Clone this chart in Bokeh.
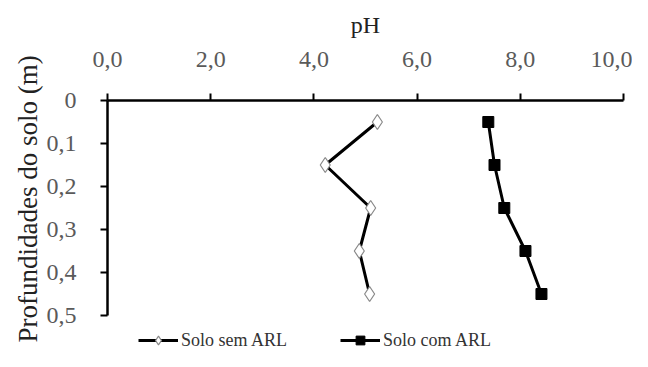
from bokeh.plotting import figure
from bokeh.models import Range1d, Legend, LegendItem, Title, FixedTicker
from bokeh.embed import file_html
from bokeh.resources import INLINE

depth = [0.05, 0.15, 0.25, 0.35, 0.45]
ph_sem_arl = [5.23, 4.22, 5.10, 4.88, 5.08]
ph_com_arl = [7.38, 7.50, 7.69, 8.10, 8.41]
x_ticks = [0, 2, 4, 6, 8, 10]
x_tick_labels = ["0,0", "2,0", "4,0", "6,0", "8,0", "10,0"]
y_ticks = [0, 0.1, 0.2, 0.3, 0.4, 0.5]
y_tick_labels = ["0", "0,1", "0,2", "0,3", "0,4", "0,5"]

FONT = "Liberation Serif"
W, H = 632, 351
TOP, LEFT, RIGHT = 100, 107, 9
AXIS_BOTTOM_PX = 315  # where depth 0.5 sits on the canvas
# frame runs to the bottom of the canvas so the legend can sit below the axis
y_bottom = 0.5 * (H - TOP) / (AXIS_BOTTOM_PX - TOP)

p = figure(width=W, height=H, output_backend="svg", toolbar_location=None,
           x_range=Range1d(0, 10), y_range=Range1d(y_bottom, 0),
           x_axis_location="above",
           min_border_left=LEFT, min_border_right=RIGHT, min_border_top=TOP, min_border_bottom=0)
p.outline_line_color = None
p.grid.visible = False
p.background_fill_color = "white"
p.border_fill_color = "white"

for ax in (p.xaxis[0], p.yaxis[0]):
    ax.axis_line_color = "black"
    ax.axis_line_width = 2.5
    ax.major_tick_line_color = "black"
    ax.major_tick_line_width = 2
    ax.major_tick_out = 7
    ax.major_tick_in = 0
    ax.minor_tick_line_color = None
    ax.major_label_text_font = FONT
    ax.major_label_text_font_size = "24px"
    ax.major_label_text_color = "#5a5a5a"

xa = p.xaxis[0]
xa.ticker = FixedTicker(ticks=x_ticks)
xa.major_label_overrides = {t: l for t, l in zip(x_ticks, x_tick_labels)}
xa.major_label_standoff = 27
xa.axis_label = "pH"
xa.axis_label_text_font = FONT
xa.axis_label_text_font_size = "24px"
xa.axis_label_text_font_style = "normal"
xa.axis_label_text_color = "#222222"
xa.axis_label_standoff = 11

ya = p.yaxis[0]
ya.ticker = FixedTicker(ticks=y_ticks)
ya.major_label_overrides = {t: l for t, l in zip(y_ticks, y_tick_labels)}
ya.major_label_standoff = 24
ya.bounds = (0, 0.5)

ytitle = Title(text="Profundidades do solo (m)", text_font=FONT, text_font_size="27px",
               text_font_style="normal", text_color="#222222",
               align="left", offset=9, vertical_align="middle", standoff=0)
p.add_layout(ytitle, "left")

r1l = p.line(ph_sem_arl, depth, line_color="black", line_width=3)
r1m = p.scatter(ph_sem_arl, depth, marker="diamond", size=15, fill_color="white",
                line_color="#888888", line_width=1.2)
r2l = p.line(ph_com_arl, depth, line_color="black", line_width=3)
r2m = p.scatter(ph_com_arl, depth, marker="square", size=11, fill_color="black",
                line_color="black")

legend = Legend(items=[LegendItem(label="Solo sem ARL", renderers=[r1l, r1m]),
                       LegendItem(label="Solo com ARL", renderers=[r2l, r2m])],
                orientation="horizontal", location=(31, 0),
                label_text_font=FONT, label_text_font_size="18px", label_text_color="#333333",
                glyph_width=40, glyph_height=22, label_standoff=3, spacing=53,
                padding=0, margin=0, border_line_color=None, background_fill_alpha=0)
p.add_layout(legend, "center")

open("out.html", "w").write(file_html(p, INLINE))
